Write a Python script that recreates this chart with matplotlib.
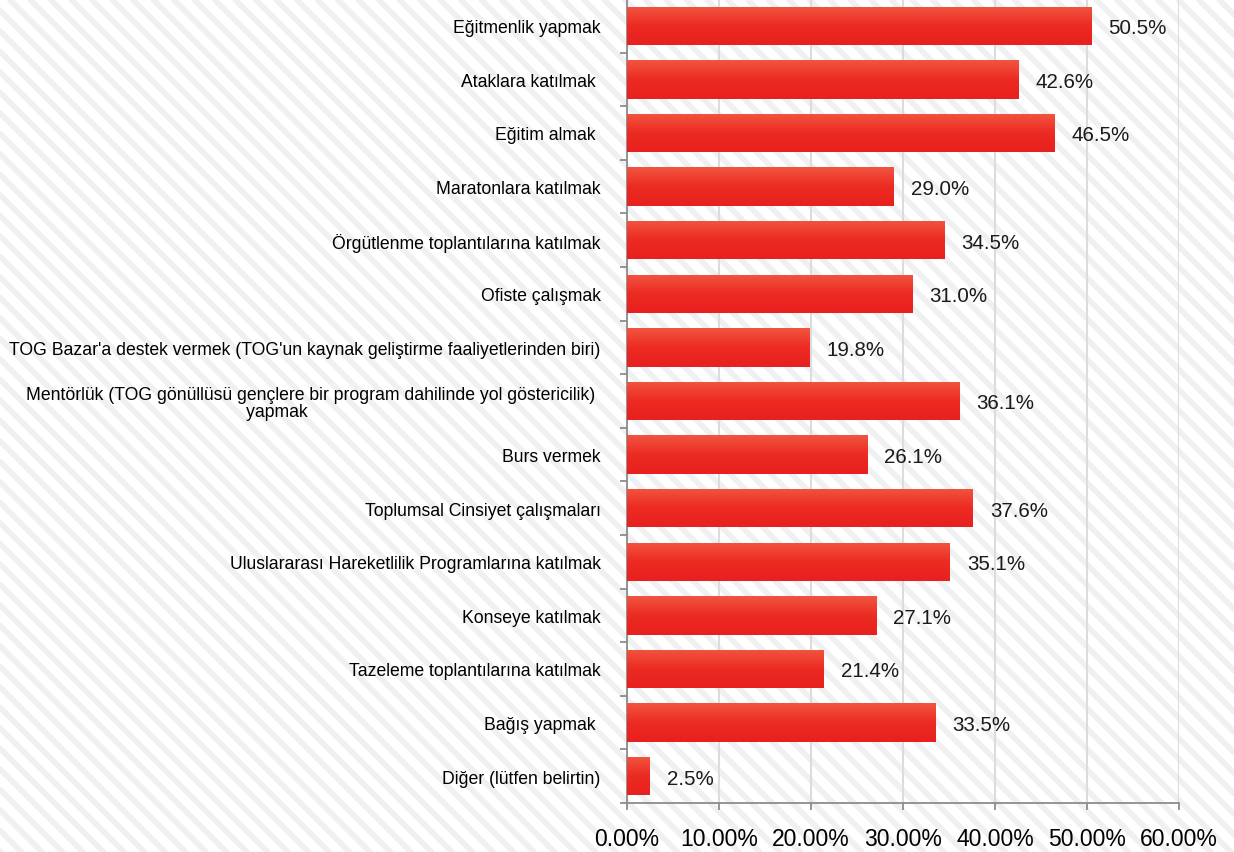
import numpy as np
import matplotlib.pyplot as plt
from matplotlib.colors import LinearSegmentedColormap

plt.rcParams['font.family'] = ['Liberation Sans', 'DejaVu Sans']

# Data
categories = [
    "Eğitmenlik yapmak",
    "Ataklara katılmak ",
    "Eğitim almak ",
    "Maratonlara katılmak",
    "Örgütlenme toplantılarına katılmak",
    "Ofiste çalışmak",
    "TOG Bazar'a destek vermek (TOG'un kaynak geliştirme faaliyetlerinden biri)",
    "Mentörlük (TOG gönüllüsü gençlere bir program dahilinde yol göstericilik) \nyapmak" + " " * 15,
    "Burs vermek",
    "Toplumsal Cinsiyet çalışmaları",
    "Uluslararası Hareketlilik Programlarına katılmak",
    "Konseye katılmak",
    "Tazeleme toplantılarına katılmak",
    "Bağış yapmak ",
    "Diğer (lütfen belirtin)",
]
values = [50.5, 42.6, 46.5, 29.0, 34.5, 31.0, 19.8, 36.1, 26.1, 37.6, 35.1, 27.1, 21.4, 33.5, 2.5]
xticks = [0, 10, 20, 30, 40, 50, 60]

W, H = 1234, 853
fig = plt.figure(figsize=(W / 100, H / 100), dpi=100)

# striped background
bg = fig.add_axes([0, 0, 1, 1], zorder=-10)
bg.set_xlim(0, W)
bg.set_ylim(H, 0)
bg.axis('off')
period = 20.5
for x0 in np.arange(-H - 40, W + period, period):
    bg.plot([x0, x0 + H + 40], [0, H + 40], color='#eef0f2', lw=4.1,
            solid_capstyle='butt')

ax = fig.add_axes([627 / W, 1 - 804 / H, (1179 - 627) / W, 804 / H])
ax.set_facecolor('none')

y = np.arange(len(categories))
bar_h = 0.72
bars = ax.barh(y, values, height=bar_h, color='#ea2424', zorder=3)

cmap = LinearSegmentedColormap.from_list('bar', ['#f1553f', '#ec2b22', '#e8201f'])
grad = np.linspace(0, 1, 64).reshape(-1, 1)
for b in bars:
    x0, y0 = b.get_x(), b.get_y()
    w, h = b.get_width(), b.get_height()
    im = ax.imshow(grad, cmap=cmap, aspect='auto', origin='upper',
                   extent=[x0, x0 + w, y0 + h, y0], zorder=4)
    im.set_clip_path(b)

for yi, v in zip(y, values):
    ax.annotate(f"{v:.1f}%", (v, yi), xytext=(17, -2), textcoords='offset pixels',
                va='center', ha='left', fontsize=14.8, color='#1a1a1a')

ax.set_xlim(0, 60)
ax.set_ylim(len(categories) - 0.5, -0.5)
ax.set_xticks(xticks)
ax.set_xticklabels([f"{t:.2f}%" for t in xticks], fontsize=16.5)
ax.set_yticks(y)
ax.set_yticklabels(categories, fontsize=12.7, multialignment='center', linespacing=1.0)
ax.set_yticks(np.arange(len(categories) + 1) - 0.5, minor=True)
ax.tick_params(axis='y', which='major', length=0, pad=19)
ax.tick_params(axis='y', which='minor', length=5, width=1.3, color='#8c8c8c', direction='out')
ax.tick_params(axis='x', length=5, width=1.3, color='#8c8c8c', pad=12)

ax.grid(axis='x', color='#dcdcdc', lw=1.5, zorder=1)
for s in ['top', 'right']:
    ax.spines[s].set_visible(False)
for s in ['left', 'bottom']:
    ax.spines[s].set_color('#8c8c8c')
    ax.spines[s].set_linewidth(1.3)

plt.savefig('out.png', dpi=100)
